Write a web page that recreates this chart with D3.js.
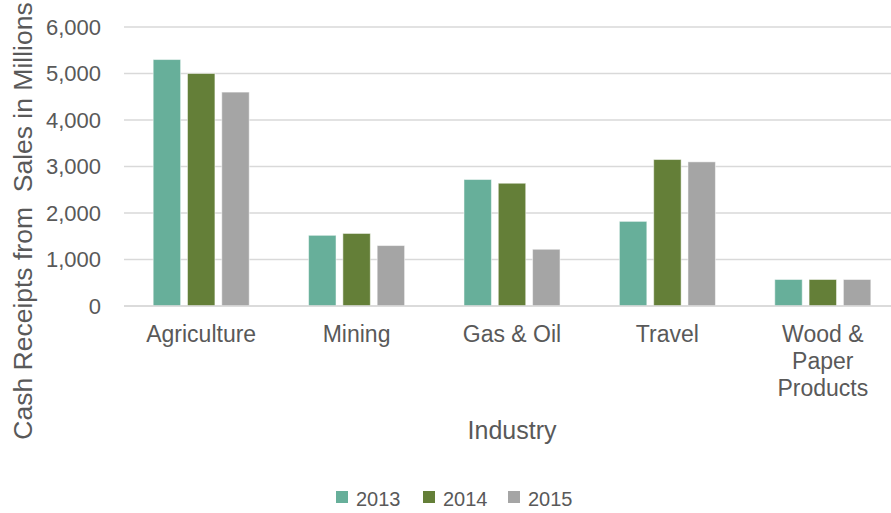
<!DOCTYPE html>
<html>
<head>
<meta charset="utf-8">
<script src="https://cdn.jsdelivr.net/npm/d3@7"></script>
<style>
  html, body { margin: 0; padding: 0; background: #fff; overflow: hidden; }
  svg { display: block; }
  text { font-family: "Liberation Sans", Arial, sans-serif; fill: #595959; }
</style>
</head>
<body>
<svg id="chart" width="891" height="513"></svg>
<script>
const categories = ["Agriculture", "Mining", "Gas & Oil", "Travel", "Wood & Paper Products"];
const categoryLines = [["Agriculture"], ["Mining"], ["Gas & Oil"], ["Travel"], ["Wood &", "Paper", "Products"]];
const years = ["2013", "2014", "2015"];
const values2013 = [5300, 1520, 2720, 1820, 570];
const values2014 = [5000, 1560, 2640, 3150, 570];
const values2015 = [4600, 1300, 1220, 3100, 570];
const yTicks = [0, 1000, 2000, 3000, 4000, 5000, 6000];
const colors = ["#67AF9A", "#647F38", "#A5A5A5"];
const yTitle = "Cash Receipts from  Sales in Millions";
const xTitle = "Industry";

const series = [values2013, values2014, values2015];
const svg = d3.select("#chart");

const x0 = d3.scaleBand().domain(categories).range([123.5, 900.5]).paddingInner(0.382).paddingOuter(0.191);
const x1 = d3.scaleBand().domain(years).range([0, x0.bandwidth()]).paddingInner(0.2).paddingOuter(0);
const y = d3.scaleLinear().domain([0, 6000]).range([306, 27]);
const color = d3.scaleOrdinal().domain(years).range(colors);

// gridlines
svg.append("g").selectAll("line").data(yTicks).join("line")
  .attr("x1", 124).attr("x2", 891)
  .attr("y1", d => y(d)).attr("y2", d => y(d))
  .attr("stroke", "#d9d9d9").attr("stroke-width", 1.5);

// y axis labels
const yAxis = d3.axisLeft(y).tickValues(yTicks).tickFormat(d3.format(",")).tickSize(0).tickPadding(0);
const gy = svg.append("g").attr("transform", "translate(101,0)").call(yAxis);
gy.select(".domain").remove();
gy.selectAll("text").style("font-size", "22px").attr("fill", "#595959").style("font-family", "'Liberation Sans', Arial, sans-serif");

// bars
const groups = svg.append("g").selectAll("g").data(categories).join("g")
  .attr("transform", d => `translate(${x0(d)},0)`);
groups.selectAll("rect").data((d, i) => years.map((yr, j) => ({yr, v: series[j][i]}))).join("rect")
  .attr("x", d => x1(d.yr))
  .attr("width", x1.bandwidth())
  .attr("y", d => y(d.v))
  .attr("height", d => y(0) - y(d.v))
  .attr("fill", d => color(d.yr))
  .attr("stroke", "#ffffff").attr("stroke-opacity", 0.5).attr("stroke-width", 1);

// baseline
svg.append("line").attr("x1", 124).attr("x2", 891).attr("y1", y(0)).attr("y2", y(0))
  .attr("stroke", "#d9d9d9").attr("stroke-width", 1.5);

// category labels
const xl = svg.append("g").selectAll("text").data(categories).join("text")
  .attr("x", d => x0(d) + x0.bandwidth() / 2)
  .attr("y", 342)
  .attr("text-anchor", "middle")
  .style("font-size", "23px");
xl.each(function(d, i) {
  const t = d3.select(this);
  categoryLines[i].forEach((ln, k) => {
    t.append("tspan").attr("x", x0(d) + x0.bandwidth() / 2).attr("dy", k === 0 ? 0 : 27).text(ln);
  });
});

// axis titles
svg.append("text").attr("x", 512).attr("y", 439).attr("text-anchor", "middle")
  .style("font-size", "25px").text(xTitle);
svg.append("text").attr("transform", "translate(32,221) rotate(-90)").attr("text-anchor", "middle")
  .style("font-size", "26.5px").style("white-space", "pre").text(yTitle);

// legend
const legendX = [336, 423, 508];
const lg = svg.append("g").selectAll("g").data(years).join("g")
  .attr("transform", (d, i) => `translate(${legendX[i]},491)`);
lg.append("rect").attr("width", 12).attr("height", 12).attr("fill", d => color(d));
lg.append("text").attr("x", 20).attr("y", 15).style("font-size", "20px").text(d => d);
</script>
</body>
</html>
